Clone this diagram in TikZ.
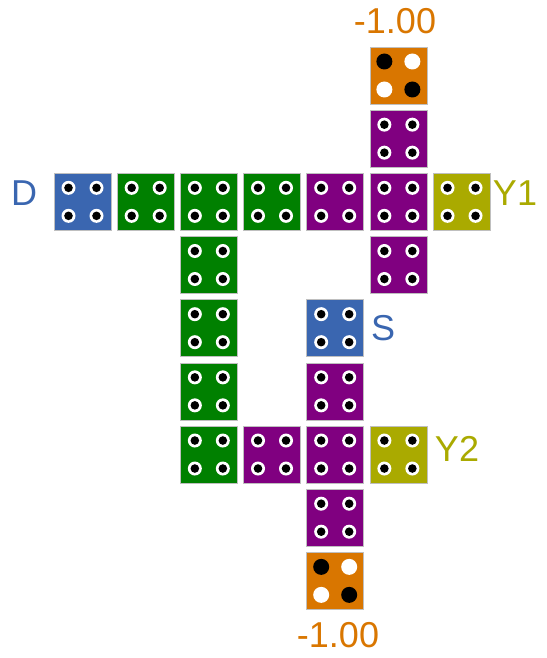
\documentclass[tikz,border=0pt]{standalone}
\usepackage{fontspec}
\setmainfont{Liberation Sans}
\definecolor{cblue}{RGB}{58,102,176}
\definecolor{cgreen}{RGB}{0,128,0}
\definecolor{cpurple}{RGB}{128,0,128}
\definecolor{colive}{RGB}{170,170,0}
\definecolor{corange}{RGB}{217,118,0}
\newcommand\mytile[4]{%
  \node[tile=#4] (#1) at ({82.5+63.17*#2},{75.5+63.17*#3}) {};
  \foreach \dx in {-14,14} \foreach \dy in {-14,14} {
    \fill[white] ([shift={(\dx,\dy)}]#1.center) circle (7);
    \fill[black] ([shift={(\dx,\dy)}]#1.center) circle (4.3);
  }}
\newcommand\myweight[3]{%
  \node[tile=corange] (#1) at ({82.5+63.17*#2},{75.5+63.17*#3}) {};
  \fill[black] ([shift={(-14,-14)}]#1.center) circle (8);
  \fill[white] ([shift={(14,-14)}]#1.center) circle (8);
  \fill[white] ([shift={(-14,14)}]#1.center) circle (8);
  \fill[black] ([shift={(14,14)}]#1.center) circle (8);
}
\begin{document}
\begin{tikzpicture}[x=1pt,y=-1pt,
  tile/.style={draw=black!25, line width=0.6pt, minimum size=57pt, inner sep=0pt, fill=#1},
  lbl/.style={font=\fontsize{36}{40}\selectfont, inner sep=0pt, text=#1}]
\useasboundingbox (0,0) rectangle (546,658);
% top weight
\myweight{wtop}{5}{0}
\mytile{p1}{5}{1}{cpurple}
% main row
\mytile{d}{0}{2}{cblue}
\mytile{g1}{1}{2}{cgreen}
\mytile{g2}{2}{2}{cgreen}
\mytile{g3}{3}{2}{cgreen}
\mytile{p2}{4}{2}{cpurple}
\mytile{p3}{5}{2}{cpurple}
\mytile{y1}{6}{2}{colive}
% row 3
\mytile{g4}{2}{3}{cgreen}
\mytile{p4}{5}{3}{cpurple}
% row 4
\mytile{g5}{2}{4}{cgreen}
\mytile{s}{4}{4}{cblue}
% row 5
\mytile{g6}{2}{5}{cgreen}
\mytile{p5}{4}{5}{cpurple}
% row 6
\mytile{g7}{2}{6}{cgreen}
\mytile{p6}{3}{6}{cpurple}
\mytile{p7}{4}{6}{cpurple}
\mytile{y2}{5}{6}{colive}
% row 7, 8
\mytile{p8}{4}{7}{cpurple}
\myweight{wbot}{4}{8}
% labels
\node[lbl=corange] (ltop) at (395,21) {-1.00};
\node[lbl=corange] (lbot) at (338,635) {-1.00};
\node[lbl=cblue] (ld) at (24,193) {D};
\node[lbl=colive] (ly1) at (515,193) {Y1};
\node[lbl=cblue] (ls) at (383,328) {S};
\node[lbl=colive] (ly2) at (457,449) {Y2};
\end{tikzpicture}
\end{document}
